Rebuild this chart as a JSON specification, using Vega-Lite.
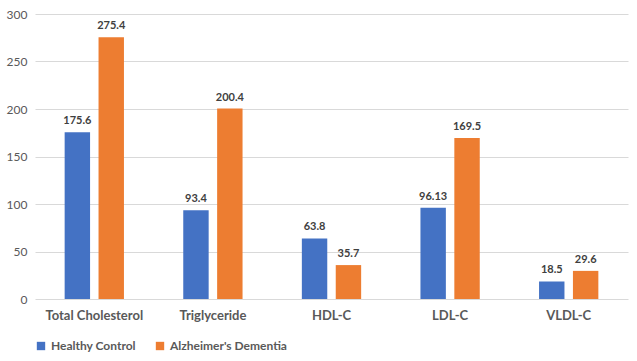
{
  "$schema": "https://vega.github.io/schema/vega-lite/v6.json",
  "width": 637,
  "height": 361,
  "autosize": {"type": "fit", "contains": "padding"},
  "padding": {"left": 6, "top": 8, "right": 9, "bottom": 9},
  "background": "white",
  "config": {
    "view": {"stroke": null},
    "font": "Lato",
    "axis": {"labelFont": "Lato", "labelColor": "#595959"}
  },
  "data": {
    "values": [
      {"cat": "Total Cholesterol", "group": "Healthy Control", "value": 175.6, "label": "175.6"},
      {"cat": "Total Cholesterol", "group": "Alzheimer's Dementia", "value": 275.4, "label": "275.4"},
      {"cat": "Triglyceride", "group": "Healthy Control", "value": 93.4, "label": "93.4"},
      {"cat": "Triglyceride", "group": "Alzheimer's Dementia", "value": 200.4, "label": "200.4"},
      {"cat": "HDL-C", "group": "Healthy Control", "value": 63.8, "label": "63.8"},
      {"cat": "HDL-C", "group": "Alzheimer's Dementia", "value": 35.7, "label": "35.7"},
      {"cat": "LDL-C", "group": "Healthy Control", "value": 96.13, "label": "96.13"},
      {"cat": "LDL-C", "group": "Alzheimer's Dementia", "value": 169.5, "label": "169.5"},
      {"cat": "VLDL-C", "group": "Healthy Control", "value": 18.5, "label": "18.5"},
      {"cat": "VLDL-C", "group": "Alzheimer's Dementia", "value": 29.6, "label": "29.6"}
    ]
  },
  "encoding": {
    "x": {
      "field": "cat", "type": "nominal", "sort": null,
      "scale": {"paddingInner": 0.5, "paddingOuter": 0.25},
      "axis": {"title": null, "labelAngle": 0, "ticks": false, "domain": false, "labelFontSize": 13, "labelFontWeight": "bold", "labelColor": "#595959", "labelPadding": 10}
    },
    "xOffset": {"field": "group", "type": "nominal", "sort": ["Healthy Control", "Alzheimer's Dementia"], "scale": {"paddingInner": 0.25}},
    "y": {
      "field": "value", "type": "quantitative",
      "scale": {"domain": [0, 300]},
      "axis": {"title": null, "values": [0, 50, 100, 150, 200, 250, 300], "ticks": false, "domain": false, "gridColor": "#d9d9d9", "gridWidth": 1, "labelFontSize": 12, "labelPadding": 8}
    }
  },
  "layer": [
    {
      "mark": {"type": "bar"},
      "encoding": {
        "color": {
          "field": "group", "type": "nominal",
          "sort": ["Healthy Control", "Alzheimer's Dementia"],
          "scale": {"domain": ["Healthy Control", "Alzheimer's Dementia"], "range": ["#4472C4", "#ED7D31"]},
          "legend": {"title": null, "orient": "bottom", "direction": "horizontal", "symbolType": "square", "symbolSize": 70, "labelFontSize": 12, "labelColor": "#595959", "labelFontWeight": "bold", "columnPadding": 18, "offset": 18}
        }
      }
    },
    {
      "mark": {"type": "text", "dy": -11, "fontSize": 11, "fontWeight": "bold", "color": "#404040"},
      "encoding": {"text": {"field": "label", "type": "nominal"}}
    }
  ]
}
